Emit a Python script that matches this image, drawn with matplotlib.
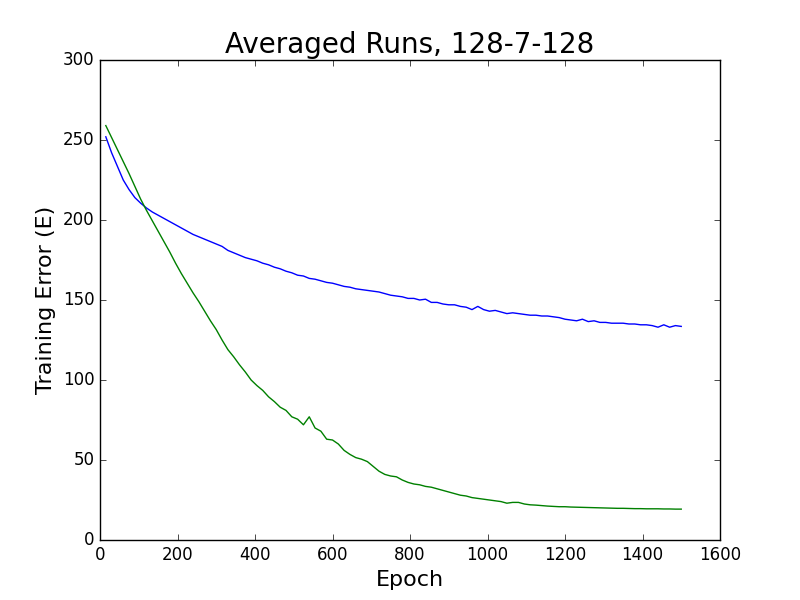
import numpy as np
import matplotlib
matplotlib.use('Agg')
import matplotlib.pyplot as plt

plt.style.use('classic')

# epochs at which the averaged error was sampled
epochs = np.arange(15, 1501, 15)

# blue run
err_blue = [252, 242, 233.5, 225, 219, 214, 210.5, 207.5, 205, 203,
            201, 199, 197, 195, 193, 191, 189.5, 188, 186.5, 185,
            183.5, 181, 179.5, 178, 176.5, 175.5, 174.5, 173, 172, 170.5,
            169.5, 168, 167, 165.5, 165, 163.5, 163, 162, 161, 160.5,
            159.5, 158.5, 158, 157, 156.5, 156, 155.5, 155, 154, 153,
            152.5, 152, 151, 151, 150, 150.5, 148.5, 148.5, 147.5, 147,
            147, 146, 145.5, 144, 146, 144, 143, 143.5, 142.5, 141.5,
            142, 141.5, 141, 140.5, 140.5, 140, 140, 139.5, 139, 138,
            137.5, 137, 138, 136.5, 137, 136, 136, 135.5, 135.5, 135.5,
            135, 135, 134.5, 134.5, 134, 133, 134.5, 133, 134, 133.5]

# green run
err_green = [259, 251.5, 244, 236.5, 229, 221, 213, 206, 199.5, 193,
             186.5, 180, 173, 166.5, 160.5, 154.5, 149, 143, 137, 131.5,
             125, 119, 114.5, 109.5, 105, 100, 96.5, 93.5, 89.5, 86.5,
             83, 81, 77, 75.5, 72, 77, 70, 68, 63, 62.5,
             60, 56, 53.5, 51.5, 50.5, 49, 46, 43, 41, 40,
             39.5, 37.5, 36, 35, 34.5, 33.5, 33, 32, 31, 30,
             29, 28, 27.5, 26.5, 26, 25.5, 25, 24.5, 24, 23,
             23.5, 23.5, 22.5, 22, 21.8, 21.5, 21.2, 21, 20.8, 20.8,
             20.6, 20.5, 20.4, 20.3, 20.2, 20.1, 20, 19.9, 19.8, 19.8,
             19.7, 19.6, 19.6, 19.5, 19.5, 19.5, 19.4, 19.4, 19.3, 19.3]

fig = plt.figure(figsize=(8, 6), dpi=100, facecolor='white')
ax = fig.add_subplot(111)
fig.subplots_adjust(left=0.125, right=0.9, bottom=0.1, top=0.9)
ax.plot(epochs, err_blue, color='b', lw=1)
ax.plot(epochs, err_green, color='g', lw=1)
ax.set_xlim(0, 1600)
ax.set_ylim(0, 300)
ax.set_title('Averaged Runs, 128-7-128', fontsize=20)
ax.set_xlabel('Epoch', fontsize=16)
ax.set_ylabel('Training Error (E)', fontsize=16)
ax.tick_params(labelsize=12)
plt.savefig('out.png', dpi=100, facecolor='white')
plt.close()
